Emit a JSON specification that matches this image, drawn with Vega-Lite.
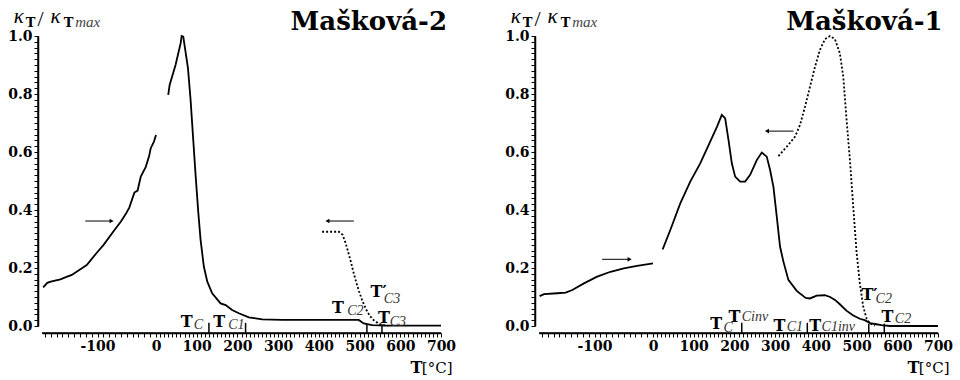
{
  "$schema": "https://vega.github.io/schema/vega-lite/v6.json",
  "padding": {"left": 7, "top": 5, "right": 0, "bottom": 0},
  "autosize": {"type": "pad"},
  "spacing": 48,
  "background": "white",
  "config": {"view": {"stroke": null}},
  "datasets": {
    "frame_h": [{"T": -195, "T2": 700, "k": -0.0241}],
    "frame_v": [{"T": -201.8, "k": 0, "k2": 1}],
    "m2_heat": [
      {"T": -193, "k": 0.133, "seg": "a"}, {"T": -186, "k": 0.149, "seg": "a"}, {"T": -180, "k": 0.153, "seg": "a"},
      {"T": -163.5, "k": 0.161, "seg": "a"}, {"T": -152, "k": 0.170, "seg": "a"}, {"T": -144, "k": 0.176, "seg": "a"},
      {"T": -130, "k": 0.195, "seg": "a"}, {"T": -118.5, "k": 0.210, "seg": "a"}, {"T": -102, "k": 0.251, "seg": "a"},
      {"T": -90, "k": 0.279, "seg": "a"}, {"T": -71, "k": 0.331, "seg": "a"}, {"T": -60, "k": 0.360, "seg": "a"},
      {"T": -51, "k": 0.389, "seg": "a"}, {"T": -45.5, "k": 0.409, "seg": "a"}, {"T": -37, "k": 0.460, "seg": "a"},
      {"T": -31.5, "k": 0.467, "seg": "a"}, {"T": -26, "k": 0.515, "seg": "a"}, {"T": -17.5, "k": 0.549, "seg": "a"},
      {"T": -12, "k": 0.584, "seg": "a"}, {"T": -9, "k": 0.613, "seg": "a"}, {"T": -3.5, "k": 0.636, "seg": "a"},
      {"T": 0, "k": 0.659, "seg": "a"},
      {"T": 30, "k": 0.797, "seg": "b"}, {"T": 33.5, "k": 0.831, "seg": "b"}, {"T": 48, "k": 0.9, "seg": "b"},
      {"T": 60.5, "k": 0.975, "seg": "b"}, {"T": 63, "k": 1.0, "seg": "b"}, {"T": 67, "k": 0.998, "seg": "b"},
      {"T": 78.5, "k": 0.889, "seg": "b"}, {"T": 85, "k": 0.779, "seg": "b"}, {"T": 91.5, "k": 0.641, "seg": "b"},
      {"T": 97.5, "k": 0.515, "seg": "b"}, {"T": 104, "k": 0.389, "seg": "b"}, {"T": 109.5, "k": 0.297, "seg": "b"},
      {"T": 117.5, "k": 0.205, "seg": "b"}, {"T": 126, "k": 0.153, "seg": "b"}, {"T": 138, "k": 0.113, "seg": "b"},
      {"T": 158.5, "k": 0.078, "seg": "b"}, {"T": 171, "k": 0.072, "seg": "b"}, {"T": 187, "k": 0.055, "seg": "b"},
      {"T": 203.5, "k": 0.044, "seg": "b"}, {"T": 228, "k": 0.030, "seg": "b"}, {"T": 261, "k": 0.023, "seg": "b"},
      {"T": 310, "k": 0.021, "seg": "b"}, {"T": 432, "k": 0.021, "seg": "b"}, {"T": 498, "k": 0.021, "seg": "b"},
      {"T": 510, "k": 0.009, "seg": "b"}, {"T": 531, "k": 0.003, "seg": "b"}, {"T": 563, "k": 0.001, "seg": "b"},
      {"T": 700, "k": 0.001, "seg": "b"}
    ],
    "m2_cool": [
      {"T": 408, "k": 0.325}, {"T": 449, "k": 0.325}, {"T": 458, "k": 0.315}, {"T": 466, "k": 0.285},
      {"T": 472, "k": 0.255}, {"T": 478, "k": 0.225}, {"T": 485, "k": 0.185}, {"T": 492, "k": 0.15},
      {"T": 499, "k": 0.118}, {"T": 506, "k": 0.09}, {"T": 515, "k": 0.06}, {"T": 525, "k": 0.035},
      {"T": 535, "k": 0.02}, {"T": 545, "k": 0.01}, {"T": 556, "k": 0.003}, {"T": 570, "k": 0.001}
    ],
    "m2_arrows": [{"T": -121, "T2": -76, "k": 0.362}, {"T": 486, "T2": 420, "k": 0.362}],
    "m2_headR": [{"T": -76, "k": 0.362}],
    "m2_headL": [{"T": 421, "k": 0.362}],
    "m2_marks": [
      {"T": 130, "k": -0.025, "k2": 0.011}, {"T": 220, "k": -0.025, "k2": 0.011},
      {"T": 518, "k": -0.025, "k2": 0.006}, {"T": 555, "k": -0.025, "k2": 0.006}
    ],
    "m2_Tlab": [
      {"T": 60.5, "k": -0.002, "s": "T"}, {"T": 140.6, "k": -0.002, "s": "T"},
      {"T": 432.5, "k": 0.046, "s": "T"}, {"T": 527, "k": 0.1, "s": "T′"}, {"T": 545, "k": 0.009, "s": "T"}
    ],
    "m2_sub": [
      {"T": 93, "k": -0.01, "s": "C"}, {"T": 177.4, "k": -0.01, "s": "C1"},
      {"T": 469.5, "k": 0.038, "s": "C2"}, {"T": 559.5, "k": 0.078, "s": "C3"}, {"T": 574, "k": 0.001, "s": "C3"}
    ],
    "m2_title": [{"T": 714.7, "k": 1.02, "s": "Mašková-2"}],
    "m1_heat": [
      {"T": -194, "k": 0.103, "seg": "a"}, {"T": -186.4, "k": 0.110, "seg": "a"}, {"T": -163.6, "k": 0.113, "seg": "a"},
      {"T": -149.4, "k": 0.115, "seg": "a"}, {"T": -138, "k": 0.124, "seg": "a"}, {"T": -118.2, "k": 0.147, "seg": "a"},
      {"T": -95.5, "k": 0.170, "seg": "a"}, {"T": -72.7, "k": 0.187, "seg": "a"}, {"T": -50, "k": 0.199, "seg": "a"},
      {"T": -27.3, "k": 0.207, "seg": "a"}, {"T": 0, "k": 0.216, "seg": "a"},
      {"T": 23.7, "k": 0.264, "seg": "b"}, {"T": 42.5, "k": 0.331, "seg": "b"}, {"T": 67, "k": 0.423, "seg": "b"},
      {"T": 91.5, "k": 0.498, "seg": "b"}, {"T": 116, "k": 0.561, "seg": "b"}, {"T": 140.5, "k": 0.636, "seg": "b"},
      {"T": 157, "k": 0.687, "seg": "b"}, {"T": 169, "k": 0.728, "seg": "b"}, {"T": 177.3, "k": 0.716, "seg": "b"},
      {"T": 185.5, "k": 0.641, "seg": "b"}, {"T": 193.6, "k": 0.561, "seg": "b"}, {"T": 201.8, "k": 0.515, "seg": "b"},
      {"T": 214, "k": 0.498, "seg": "b"}, {"T": 226.3, "k": 0.498, "seg": "b"}, {"T": 238.6, "k": 0.521, "seg": "b"},
      {"T": 254.9, "k": 0.572, "seg": "b"}, {"T": 267.2, "k": 0.598, "seg": "b"}, {"T": 279.4, "k": 0.584, "seg": "b"},
      {"T": 287.6, "k": 0.538, "seg": "b"}, {"T": 295.8, "k": 0.480, "seg": "b"}, {"T": 304, "k": 0.377, "seg": "b"},
      {"T": 312, "k": 0.274, "seg": "b"}, {"T": 320.3, "k": 0.222, "seg": "b"}, {"T": 332.5, "k": 0.159, "seg": "b"},
      {"T": 353, "k": 0.121, "seg": "b"}, {"T": 375, "k": 0.097, "seg": "b"}, {"T": 385.6, "k": 0.095, "seg": "b"},
      {"T": 402, "k": 0.105, "seg": "b"}, {"T": 422, "k": 0.106, "seg": "b"}, {"T": 435, "k": 0.100, "seg": "b"},
      {"T": 447, "k": 0.090, "seg": "b"}, {"T": 459, "k": 0.075, "seg": "b"}, {"T": 475, "k": 0.053, "seg": "b"},
      {"T": 492, "k": 0.036, "seg": "b"}, {"T": 508, "k": 0.025, "seg": "b"}, {"T": 520, "k": 0.02, "seg": "b"},
      {"T": 533, "k": 0.01, "seg": "b"}, {"T": 549, "k": 0.006, "seg": "b"}, {"T": 561, "k": 0.003, "seg": "b"},
      {"T": 582, "k": 0.0, "seg": "b"}, {"T": 700, "k": 0.0, "seg": "b"}
    ],
    "m1_cool": [
      {"T": 308, "k": 0.586}, {"T": 328.4, "k": 0.618}, {"T": 349, "k": 0.653}, {"T": 361, "k": 0.693},
      {"T": 373.4, "k": 0.756}, {"T": 385.6, "k": 0.825}, {"T": 397.9, "k": 0.894}, {"T": 410, "k": 0.952},
      {"T": 422.4, "k": 0.989}, {"T": 434.6, "k": 1.0}, {"T": 446.9, "k": 0.989}, {"T": 459, "k": 0.94},
      {"T": 467.3, "k": 0.86}, {"T": 475.5, "k": 0.71}, {"T": 483.7, "k": 0.572}, {"T": 491.8, "k": 0.411},
      {"T": 500, "k": 0.255}, {"T": 508, "k": 0.147}, {"T": 516.3, "k": 0.067}, {"T": 524.5, "k": 0.026},
      {"T": 532.7, "k": 0.009}, {"T": 545, "k": 0.001}
    ],
    "m1_arrows": [{"T": 345, "T2": 279, "k": 0.672}, {"T": -87, "T2": -40, "k": 0.23}],
    "m1_headR": [{"T": -40, "k": 0.23}],
    "m1_headL": [{"T": 280, "k": 0.672}],
    "m1_marks": [
      {"T": 218, "k": -0.025, "k2": 0.011}, {"T": 379, "k": -0.025, "k2": 0.011},
      {"T": 530, "k": -0.025, "k2": 0.008}, {"T": 568, "k": -0.025, "k2": 0.008}
    ],
    "m1_Tlab": [
      {"T": 140.5, "k": -0.011, "s": "T"}, {"T": 185.5, "k": 0.015, "s": "T"},
      {"T": 295.8, "k": -0.017, "s": "T"}, {"T": 384, "k": -0.017, "s": "T"},
      {"T": 512, "k": 0.09, "s": "T′"}, {"T": 561, "k": 0.015, "s": "T"}
    ],
    "m1_sub": [
      {"T": 173.3, "k": -0.02, "s": "C"}, {"T": 218, "k": 0.018, "s": "Cinv"},
      {"T": 328.4, "k": -0.017, "s": "C1"}, {"T": 414, "k": -0.017, "s": "C1inv"},
      {"T": 546.6, "k": 0.078, "s": "C2"}, {"T": 594, "k": 0.011, "s": "C2"}
    ],
    "m1_title": [{"T": 711.5, "k": 1.02, "s": "Mašková-1"}],
    "yt_k": [{"T": -243.3, "k": 1.046, "s": "κ"}, {"T": -180.4, "k": 1.046, "s": "κ"}],
    "yt_T": [{"T": -222.6, "k": 1.032, "s": "T"}, {"T": -158, "k": 1.032, "s": "T"}],
    "yt_slash": [{"T": -202.9, "k": 1.036, "s": "/"}],
    "yt_max": [{"T": -138.3, "k": 1.030, "s": "max"}],
    "xt_T": [{"T": 625, "k": -0.163, "s": "T"}],
    "xt_unit": [{"T": 653, "k": -0.163, "s": "[°C]"}]
  },
  "hconcat": [
    {
      "width": 399,
      "height": 290,
      "encoding": {
        "x": {"field": "T", "type": "quantitative",
              "scale": {"domain": [-195, 0, 700], "range": [0, 114, 399], "nice": false, "zero": false},
              "axis": {"values": [-190,-180,-170,-160,-150,-140,-130,-120,-110,-100,-90,-80,-70,-60,-50,-40,-30,-20,-10,0,10,20,30,40,50,60,70,80,90,100,110,120,130,140,150,160,170,180,190,200,210,220,230,240,250,260,270,280,290,300,310,320,330,340,350,360,370,380,390,400,410,420,430,440,450,460,470,480,490,500,510,520,530,540,550,560,570,580,590,600,610,620,630,640,650,660,670,680,690,700],
                       "labelExpr": "datum.value % 100 === 0 ? '' + datum.value : ''",
                       "title": null, "grid": false, "labelFlush": false, "labelOverlap": false,
                       "domainColor": "#000000", "domainWidth": 1.5, "tickColor": "#000000", "tickSize": 4, "offset": 7,
                       "labelFont": "DejaVu Serif", "labelFontWeight": "bold", "labelFontSize": 14}},
        "y": {"field": "k", "type": "quantitative",
              "scale": {"domain": [0, 1], "nice": false, "zero": false},
              "axis": {"values": [0,0.02,0.04,0.06,0.08,0.1,0.12,0.14,0.16,0.18,0.2,0.22,0.24,0.26,0.28,0.3,0.32,0.34,0.36,0.38,0.4,0.42,0.44,0.46,0.48,0.5,0.52,0.54,0.56,0.58,0.6,0.62,0.64,0.66,0.68,0.7,0.72,0.74,0.76,0.78,0.8,0.82,0.84,0.86,0.88,0.9,0.92,0.94,0.96,0.98,1.0],
                       "labelExpr": "abs(datum.value*5 - round(datum.value*5)) < 0.001 ? format(datum.value, '.1f') : ''",
                       "title": null, "grid": false, "labelFlush": false, "labelOverlap": false,
                       "domainColor": "#000000", "domainWidth": 1.5, "tickColor": "#000000", "tickSize": 4, "offset": 4,
                       "labelFont": "DejaVu Serif", "labelFontWeight": "bold", "labelFontSize": 14}}
      },
      "layer": [
        {"data": {"name": "frame_h"}, "mark": {"type": "rule", "color": "black", "strokeWidth": 1.5}, "encoding": {"x2": {"field": "T2"}}},
        {"data": {"name": "frame_v"}, "mark": {"type": "rule", "color": "black", "strokeWidth": 1.5}, "encoding": {"y2": {"field": "k2"}}},
        {"data": {"name": "m2_heat"}, "mark": {"type": "line", "color": "black", "strokeWidth": 1.8}, "encoding": {"detail": {"field": "seg"}}},
        {"data": {"name": "m2_cool"}, "mark": {"type": "line", "color": "black", "strokeWidth": 1.8, "strokeDash": [2, 2]}},
        {"data": {"name": "m2_arrows"}, "mark": {"type": "rule", "color": "black", "strokeWidth": 1}, "encoding": {"x2": {"field": "T2"}}},
        {"data": {"name": "m2_headR"}, "mark": {"type": "point", "shape": "triangle-right", "filled": true, "color": "black", "opacity": 1, "size": 22}},
        {"data": {"name": "m2_headL"}, "mark": {"type": "point", "shape": "triangle-left", "filled": true, "color": "black", "opacity": 1, "size": 22}},
        {"data": {"name": "m2_marks"}, "mark": {"type": "rule", "color": "black", "strokeWidth": 1.5}, "encoding": {"y2": {"field": "k2"}}},
        {"data": {"name": "m2_Tlab"}, "mark": {"type": "text", "align": "left", "baseline": "alphabetic", "font": "DejaVu Serif", "fontWeight": "bold", "fontSize": 16, "color": "black"}, "encoding": {"text": {"field": "s"}}},
        {"data": {"name": "m2_sub"}, "mark": {"type": "text", "align": "left", "baseline": "alphabetic", "font": "Liberation Serif", "fontStyle": "italic", "fontSize": 14, "color": "#333"}, "encoding": {"text": {"field": "s"}}},
        {"data": {"name": "m2_title"}, "mark": {"type": "text", "align": "right", "baseline": "alphabetic", "font": "DejaVu Serif", "fontWeight": "bold", "fontSize": 26, "color": "black"}, "encoding": {"text": {"field": "s"}}},
        {"data": {"name": "yt_k"}, "mark": {"type": "text", "align": "left", "baseline": "alphabetic", "font": "Liberation Serif", "fontStyle": "italic", "fontSize": 21, "color": "black"}, "encoding": {"text": {"field": "s"}}},
        {"data": {"name": "yt_T"}, "mark": {"type": "text", "align": "left", "baseline": "alphabetic", "font": "DejaVu Serif", "fontWeight": "bold", "fontSize": 13, "color": "black"}, "encoding": {"text": {"field": "s"}}},
        {"data": {"name": "yt_slash"}, "mark": {"type": "text", "align": "left", "baseline": "alphabetic", "font": "Liberation Serif", "fontSize": 22, "color": "black"}, "encoding": {"text": {"field": "s"}}},
        {"data": {"name": "yt_max"}, "mark": {"type": "text", "align": "left", "baseline": "alphabetic", "font": "Liberation Serif", "fontStyle": "italic", "fontSize": 15, "color": "#444"}, "encoding": {"text": {"field": "s"}}},
        {"data": {"name": "xt_T"}, "mark": {"type": "text", "align": "left", "baseline": "alphabetic", "font": "DejaVu Serif", "fontWeight": "bold", "fontSize": 16, "color": "black"}, "encoding": {"text": {"field": "s"}}},
        {"data": {"name": "xt_unit"}, "mark": {"type": "text", "align": "left", "baseline": "alphabetic", "font": "DejaVu Serif", "fontSize": 15, "color": "black"}, "encoding": {"text": {"field": "s"}}}
      ]
    },
    {
      "width": 399,
      "height": 290,
      "encoding": {
        "x": {"field": "T", "type": "quantitative",
              "scale": {"domain": [-195, 0, 700], "range": [0, 114, 399], "nice": false, "zero": false},
              "axis": {"values": [-190,-180,-170,-160,-150,-140,-130,-120,-110,-100,-90,-80,-70,-60,-50,-40,-30,-20,-10,0,10,20,30,40,50,60,70,80,90,100,110,120,130,140,150,160,170,180,190,200,210,220,230,240,250,260,270,280,290,300,310,320,330,340,350,360,370,380,390,400,410,420,430,440,450,460,470,480,490,500,510,520,530,540,550,560,570,580,590,600,610,620,630,640,650,660,670,680,690,700],
                       "labelExpr": "datum.value % 100 === 0 ? '' + datum.value : ''",
                       "title": null, "grid": false, "labelFlush": false, "labelOverlap": false,
                       "domainColor": "#000000", "domainWidth": 1.5, "tickColor": "#000000", "tickSize": 4, "offset": 7,
                       "labelFont": "DejaVu Serif", "labelFontWeight": "bold", "labelFontSize": 14}},
        "y": {"field": "k", "type": "quantitative",
              "scale": {"domain": [0, 1], "nice": false, "zero": false},
              "axis": {"values": [0,0.02,0.04,0.06,0.08,0.1,0.12,0.14,0.16,0.18,0.2,0.22,0.24,0.26,0.28,0.3,0.32,0.34,0.36,0.38,0.4,0.42,0.44,0.46,0.48,0.5,0.52,0.54,0.56,0.58,0.6,0.62,0.64,0.66,0.68,0.7,0.72,0.74,0.76,0.78,0.8,0.82,0.84,0.86,0.88,0.9,0.92,0.94,0.96,0.98,1.0],
                       "labelExpr": "abs(datum.value*5 - round(datum.value*5)) < 0.001 ? format(datum.value, '.1f') : ''",
                       "title": null, "grid": false, "labelFlush": false, "labelOverlap": false,
                       "domainColor": "#000000", "domainWidth": 1.5, "tickColor": "#000000", "tickSize": 4, "offset": 4,
                       "labelFont": "DejaVu Serif", "labelFontWeight": "bold", "labelFontSize": 14}}
      },
      "layer": [
        {"data": {"name": "frame_h"}, "mark": {"type": "rule", "color": "black", "strokeWidth": 1.5}, "encoding": {"x2": {"field": "T2"}}},
        {"data": {"name": "frame_v"}, "mark": {"type": "rule", "color": "black", "strokeWidth": 1.5}, "encoding": {"y2": {"field": "k2"}}},
        {"data": {"name": "m1_heat"}, "mark": {"type": "line", "color": "black", "strokeWidth": 1.8}, "encoding": {"detail": {"field": "seg"}}},
        {"data": {"name": "m1_cool"}, "mark": {"type": "line", "color": "black", "strokeWidth": 1.8, "strokeDash": [2, 2]}},
        {"data": {"name": "m1_arrows"}, "mark": {"type": "rule", "color": "black", "strokeWidth": 1}, "encoding": {"x2": {"field": "T2"}}},
        {"data": {"name": "m1_headR"}, "mark": {"type": "point", "shape": "triangle-right", "filled": true, "color": "black", "opacity": 1, "size": 22}},
        {"data": {"name": "m1_headL"}, "mark": {"type": "point", "shape": "triangle-left", "filled": true, "color": "black", "opacity": 1, "size": 22}},
        {"data": {"name": "m1_marks"}, "mark": {"type": "rule", "color": "black", "strokeWidth": 1.5}, "encoding": {"y2": {"field": "k2"}}},
        {"data": {"name": "m1_Tlab"}, "mark": {"type": "text", "align": "left", "baseline": "alphabetic", "font": "DejaVu Serif", "fontWeight": "bold", "fontSize": 16, "color": "black"}, "encoding": {"text": {"field": "s"}}},
        {"data": {"name": "m1_sub"}, "mark": {"type": "text", "align": "left", "baseline": "alphabetic", "font": "Liberation Serif", "fontStyle": "italic", "fontSize": 14, "color": "#333"}, "encoding": {"text": {"field": "s"}}},
        {"data": {"name": "m1_title"}, "mark": {"type": "text", "align": "right", "baseline": "alphabetic", "font": "DejaVu Serif", "fontWeight": "bold", "fontSize": 26, "color": "black"}, "encoding": {"text": {"field": "s"}}},
        {"data": {"name": "yt_k"}, "mark": {"type": "text", "align": "left", "baseline": "alphabetic", "font": "Liberation Serif", "fontStyle": "italic", "fontSize": 21, "color": "black"}, "encoding": {"text": {"field": "s"}}},
        {"data": {"name": "yt_T"}, "mark": {"type": "text", "align": "left", "baseline": "alphabetic", "font": "DejaVu Serif", "fontWeight": "bold", "fontSize": 13, "color": "black"}, "encoding": {"text": {"field": "s"}}},
        {"data": {"name": "yt_slash"}, "mark": {"type": "text", "align": "left", "baseline": "alphabetic", "font": "Liberation Serif", "fontSize": 22, "color": "black"}, "encoding": {"text": {"field": "s"}}},
        {"data": {"name": "yt_max"}, "mark": {"type": "text", "align": "left", "baseline": "alphabetic", "font": "Liberation Serif", "fontStyle": "italic", "fontSize": 15, "color": "#444"}, "encoding": {"text": {"field": "s"}}},
        {"data": {"name": "xt_T"}, "mark": {"type": "text", "align": "left", "baseline": "alphabetic", "font": "DejaVu Serif", "fontWeight": "bold", "fontSize": 16, "color": "black"}, "encoding": {"text": {"field": "s"}}},
        {"data": {"name": "xt_unit"}, "mark": {"type": "text", "align": "left", "baseline": "alphabetic", "font": "DejaVu Serif", "fontSize": 15, "color": "black"}, "encoding": {"text": {"field": "s"}}}
      ]
    }
  ]
}
